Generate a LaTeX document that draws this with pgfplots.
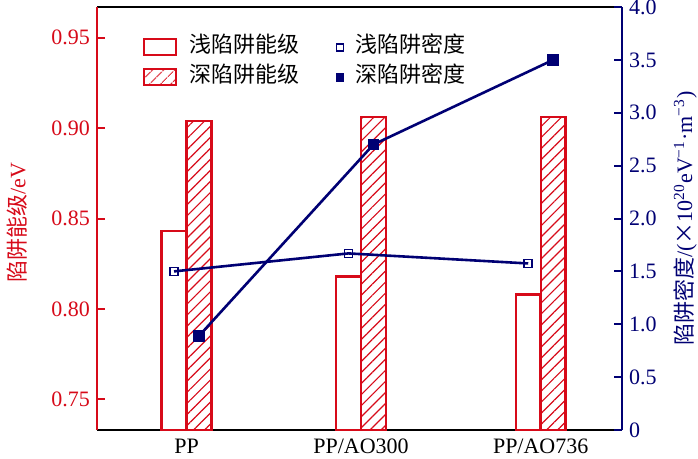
\documentclass[border=0pt]{standalone}
\usepackage{pgfplots}
\pgfplotsset{compat=1.18}
\usepackage{fontspec}
\setmainfont{Liberation Serif}
\newfontfamily\cjk{Noto Sans CJK SC}
\usetikzlibrary{patterns.meta}
\definecolor{cred}{RGB}{215,10,25}
\definecolor{cnavy}{RGB}{0,0,115}
\pgfplotsset{
  barlegend/.style={legend image code/.code={\draw[##1] (0pt,-4pt) rectangle (16pt,4pt);}},
  marklegend/.style={legend image code/.code={\draw[mark repeat=2,mark phase=2,##1] plot coordinates {(0pt,0pt)(4pt,0pt)(8pt,0pt)};}},
  common/.style={
    scale only axis, width=262.5pt, height=211.5pt,
    xmin=-0.513, xmax=2.496,
    tick align=inside, major tick length=4pt,
    /pgf/number format/assume math mode=true,
  }
}
\begin{document}
\begin{tikzpicture}[font=\fontsize{11}{13}\selectfont]
\begin{axis}[common, name=main,
  ymin=0.733, ymax=0.967,
  axis y line*=left, axis x line=box,
  xtick={0,1,2.03}, xticklabels={PP,PP/AO300,PP/AO736},
  x tick style={draw=none},
  x axis line style={black, line width=0.9pt, -},
  y axis line style={cred, line width=1pt, -},
  ytick={0.75,0.80,0.85,0.90,0.95},
  y tick style={cred, line width=1pt},
  yticklabel style={text=cred, /pgf/number format/.cd, fixed, fixed zerofill, precision=2},
  xticklabel style={yshift=-1pt},
  ylabel={{\cjk 陷阱能级}/eV},
  ylabel style={at={(axis description cs:0,0.49)}, anchor=center, yshift=40pt, text=cred},
]
\addplot[ybar, bar width=0.143, bar shift=0pt, draw=cred, fill=white, line width=1.2pt]
  coordinates {(-0.0716,0.843)(0.9284,0.818)(1.9584,0.808)};
\addplot[ybar, bar width=0.143, bar shift=0pt, draw=cred, line width=1.2pt,
  pattern={Lines[angle=45,distance=3.9pt,line width=0.6pt]}, pattern color=cred]
  coordinates {(0.0716,0.904)(1.0716,0.906)(2.1016,0.906)};
\end{axis}
\begin{axis}[common,
  ymin=0, ymax=4,
  axis y line*=right, axis x line=none,
  y axis line style={cnavy, line width=1pt, -},
  ytick={0,0.5,1,1.5,2,2.5,3,3.5,4},
  yticklabels={0,0.5,1.0,1.5,2.0,2.5,3.0,3.5,4.0},
  y tick style={cnavy, line width=1pt},
  yticklabel style={text=cnavy},
  ylabel={{\cjk 陷阱密度}/({\cjk ×}10\textsuperscript{20}eV\textsuperscript{−1}·m\textsuperscript{−3})},
  ylabel style={at={(axis description cs:1,0.5)}, anchor=center, yshift=-31.5pt, text=cnavy},
  legend columns=2,
  legend cell align=left,
  legend style={draw=none, fill=none, inner sep=0pt,
    at={(axis description cs:0,1)}, anchor=north west, xshift=23pt, yshift=-14.5pt,
    row sep=4pt, column sep=6pt,
    /tikz/every even column/.append style={column sep=18.5pt},
    nodes={inner sep=0pt, text height=8pt, text depth=3pt, font=\cjk\fontsize{11}{13}\selectfont}},
]
\addplot[cnavy, line width=1.3pt, mark=square, mark size=2pt, mark options={fill=white, line width=0.8pt}, forget plot]
  coordinates {(-0.0716,1.50)(0.9284,1.67)(1.9584,1.575)};
\addplot[cnavy, line width=1.3pt, mark=square*, mark size=2.3pt, forget plot]
  coordinates {(0.0716,0.89)(1.0716,2.70)(2.1016,3.50)};
\addlegendimage{barlegend, draw=cred, fill=white, line width=1pt}
\addlegendentry{浅陷阱能级}
\addlegendimage{only marks, mark=square, cnavy, mark size=1.8pt, mark options={fill=white, line width=0.8pt}, marklegend}
\addlegendentry{浅陷阱密度}
\addlegendimage{barlegend, draw=cred, line width=1pt, pattern={Lines[angle=45,distance=4pt,line width=0.6pt]}, pattern color=cred}
\addlegendentry{深陷阱能级}
\addlegendimage{only marks, mark=square*, cnavy, mark size=1.8pt, marklegend}
\addlegendentry{深陷阱密度}
\end{axis}
\pgfresetboundingbox
\path ([xshift=-48.5pt,yshift=-14pt]main.south west) rectangle ([xshift=38pt,yshift=3.5pt]main.north east);
\end{tikzpicture}
\end{document}
